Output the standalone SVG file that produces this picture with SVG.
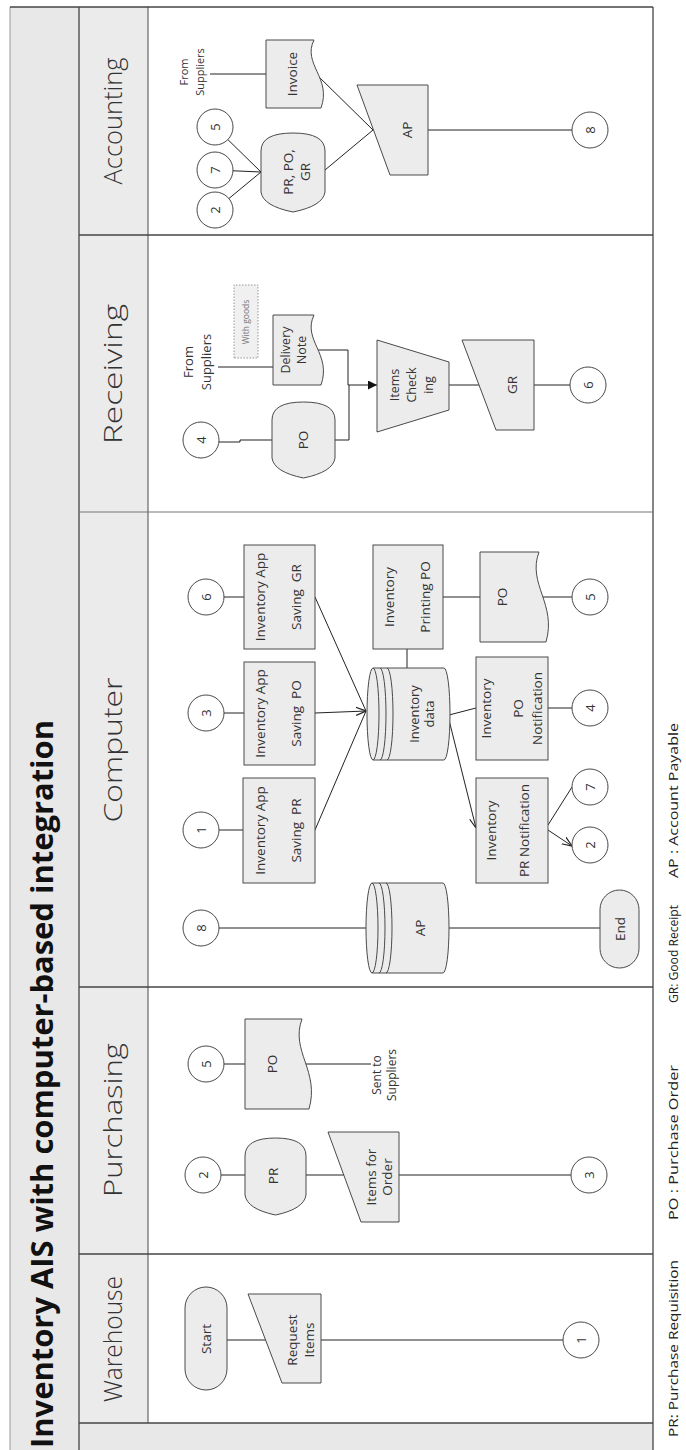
<svg xmlns="http://www.w3.org/2000/svg" width="686" height="1450" viewBox="0 0 686 1450">
<defs>
<style>
.n{fill:#ececec;stroke:#4a4a4a;stroke-width:1}
.c{fill:#fff;stroke:#4a4a4a;stroke-width:1}
.ln{fill:none;stroke:#222;stroke-width:1}
.bd{fill:none;stroke:#444;stroke-width:1.3}
.t{font-family:'Open Sans','Noto Sans','DejaVu Sans',sans-serif;font-size:13.5px;fill:#333;text-anchor:middle}
.num{font-size:13px}
.s11{font-size:11px}
.s12{font-size:12px}
.s125{font-size:12.5px}
.s13{font-size:13px}
.lbl{font-family:'Open Sans','Lato','Noto Sans',sans-serif;font-weight:300;font-size:26px;fill:#333;text-anchor:middle}
.title{font-family:'Open Sans','Noto Sans','DejaVu Sans',sans-serif;font-weight:700;font-size:30px;fill:#111}
.leg{font-family:'Open Sans','Noto Sans','DejaVu Sans',sans-serif;font-size:13.5px;fill:#222}
</style>
<marker id="ao" viewBox="0 0 10 10" refX="10" refY="5" markerWidth="10" markerHeight="10" markerUnits="userSpaceOnUse" orient="auto"><path d="M0,1 L10,5 L0,9" fill="none" stroke="#222" stroke-width="1.2"/></marker>
<marker id="af" viewBox="0 0 10 10" refX="10" refY="5" markerWidth="9" markerHeight="9" markerUnits="userSpaceOnUse" orient="auto"><path d="M0,0 L10,5 L0,10 Z" fill="#111"/></marker>
</defs>
<rect width="686" height="1450" fill="#fff"/>
<g transform="translate(0,1450) rotate(-90)">
<g id="pool">
<rect x="-5" y="10" width="1448" height="69" fill="#e8e8e8"/>
<rect x="27" y="79" width="1416" height="69" fill="#ebebeb"/>
<rect x="-5" y="79" width="32" height="574" fill="#e8e8e8"/>
<line x1="-5" y1="10" x2="1443" y2="10" stroke="#999" stroke-width="1"/>
<line x1="-5" y1="79" x2="1443" y2="79" class="bd"/>
<line x1="27" y1="148" x2="1443" y2="148" stroke="#666" stroke-width="1.2"/>
<line x1="-5" y1="653" x2="1443" y2="653" class="bd"/>
<line x1="1443" y1="10" x2="1443" y2="653" class="bd"/>
<line x1="1215" y1="79" x2="1215" y2="653" class="bd"/>
<line x1="938" y1="79" x2="938" y2="653" stroke="#777" stroke-width="1.2"/>
<line x1="463" y1="79" x2="463" y2="653" class="bd"/>
<line x1="196" y1="79" x2="196" y2="653" class="bd"/>
<line x1="27" y1="79" x2="27" y2="653" class="bd"/>
<text class="title" x="2" y="53" textLength="728" lengthAdjust="spacingAndGlyphs">Inventory AIS with computer-based integration</text>
<text class="lbl" x="1329" y="122" textLength="127" lengthAdjust="spacingAndGlyphs">Accounting</text>
<text class="lbl" x="1076" y="122" textLength="140" lengthAdjust="spacingAndGlyphs">Receiving</text>
<text class="lbl" x="700" y="122" textLength="145" lengthAdjust="spacingAndGlyphs">Computer</text>
<text class="lbl" x="330" y="122" textLength="154" lengthAdjust="spacingAndGlyphs">Purchasing</text>
<text class="lbl" x="111" y="122" textLength="126" lengthAdjust="spacingAndGlyphs">Warehouse</text>
<text class="leg" x="13" y="678" textLength="177" lengthAdjust="spacingAndGlyphs">PR: Purchase Requisition</text>
<text class="leg" x="230" y="678" textLength="155" lengthAdjust="spacingAndGlyphs">PO : Purchase Order</text>
<text class="leg" x="447" y="678" textLength="98" lengthAdjust="spacingAndGlyphs">GR: Good Receipt</text>
<text class="leg" x="572" y="678" textLength="155" lengthAdjust="spacingAndGlyphs">AP : Account Payable</text>
</g>
<g id="connectors" class="ln">
<path d="M1376,210 V266"/>
<path d="M1323,215 L1278,261"/>
<path d="M1280,215 L1278,261"/>
<path d="M1240,215 L1278,261"/>
<path d="M1280,325 L1320,373"/>
<path d="M1375,317 L1320,373"/>
<path d="M1320,428 V572"/>
<path d="M1083,218 V273"/>
<path d="M1100,318 V348 H1065 V377" marker-end="url(#af)"/>
<path d="M1008,201 V240 H1010 V272"/>
<path d="M1010,335 V349 H1065"/>
<path d="M1065,449 V479"/>
<path d="M1065,534 V570"/>
<path d="M853,206 V244"/>
<path d="M853,315 L739,366"/>
<path d="M737,206 V244"/>
<path d="M737,315 L739,366" marker-end="url(#ao)"/>
<path d="M620,201 V243"/>
<path d="M620,315 L739,366"/>
<path d="M782,407 H801"/>
<path d="M853,443 V480"/>
<path d="M853,543 V572"/>
<path d="M735,449 L742,476"/>
<path d="M742,548 V572"/>
<path d="M730,449 L622,476" marker-end="url(#ao)"/>
<path d="M625,548 L663,572"/>
<path d="M620,548 L604,572" marker-end="url(#ao)"/>
<path d="M522,219 V366"/>
<path d="M522,449 V600"/>
<path d="M386,206 V245"/>
<path d="M386,306 V371"/>
<path d="M275,203 V245"/>
<path d="M275,306 V344"/>
<path d="M275,399 V571"/>
<path d="M110,227 V266"/>
<path d="M110,321 V563"/>
</g>
<g id="acc-from"><text class="t s11" x="1378" y="188">From</text><text class="t s11" x="1378" y="204">Suppliers</text></g>
<g id="acc-invoice"><path class="n" d="M1342,266 H1410 V314 C1386,302 1372,332 1342,321 Z"/><text class="t" x="1376" y="297">Invoice</text></g>
<g id="acc-ap"><path class="n" d="M1275,390 L1365,357 V428 H1275 Z"/><text class="t" x="1320" y="412">AP</text></g>
<g id="acc-c8"><circle class="c" cx="1320" cy="590" r="18"/><text class="t num" x="1320" y="594.7">8</text></g>
<g id="acc-c5"><circle class="c" cx="1323" cy="215" r="18"/><text class="t num" x="1323" y="219.7">5</text></g>
<g id="acc-c7"><circle class="c" cx="1280" cy="215" r="18"/><text class="t num" x="1280" y="219.7">7</text></g>
<g id="acc-c2"><circle class="c" cx="1240" cy="215" r="18"/><text class="t num" x="1240" y="219.7">2</text></g>
<g id="acc-prpogr"><path class="n" d="M1238,293 Q1244,263 1258,261 H1299 Q1317,261 1317,293 Q1317,325 1299,325 H1258 Q1244,323 1238,293 Z"/><text class="t" x="1278" y="293">PR, PO,</text><text class="t" x="1278" y="310">GR</text></g>
<g id="rec-from"><text class="t s13" x="1088" y="192.5">From</text><text class="t s13" x="1088" y="210.5">Suppliers</text></g>
<g id="rec-withgoods"><rect x="1092" y="234" width="73" height="24" fill="#f0f0f0" stroke="#999" stroke-width="1" stroke-dasharray="1.5,1.5"/><text class="t" x="1128" y="249" style="font-size:8.5px;fill:#777">With goods</text></g>
<g id="rec-delivery"><path class="n" d="M1065,273 H1135 V314 C1110,302 1096,332 1065,321 Z"/><text class="t s125" x="1100" y="289.5">Delivery</text><text class="t s125" x="1100" y="305.5">Note</text></g>
<g id="rec-c4"><circle class="c" cx="1010" cy="201" r="18"/><text class="t num" x="1010" y="205.7">4</text></g>
<g id="rec-po"><path class="n" d="M972,303.5 Q978,274 992,272 H1030 Q1048,272 1048,303.5 Q1048,335 1030,335 H992 Q978,333 972,303.5 Z"/><text class="t" x="1010" y="308">PO</text></g>
<g id="rec-items"><path class="n" d="M1018,377 H1110 L1088,449 H1040 Z"/><text class="t s125" x="1065" y="398.5">Items</text><text class="t s125" x="1065" y="415.5">Check</text><text class="t s125" x="1065" y="432.5">ing</text></g>
<g id="rec-gr"><path class="n" d="M1020,496 L1110,462 V534 H1020 Z"/><text class="t" x="1065" y="517">GR</text></g>
<g id="rec-c6"><circle class="c" cx="1065" cy="588" r="18"/><text class="t num" x="1065" y="592.7">6</text></g>
<g id="cmp-c6"><circle class="c" cx="853" cy="206" r="18"/><text class="t num" x="853" y="210.7">6</text></g>
<g id="cmp-savegr"><rect class="n" x="801" y="244" width="104" height="71"/><text class="t" x="853" y="265">Inventory App</text><text class="t" x="853" y="301" xml:space="preserve">Saving  GR</text></g>
<g id="cmp-printpo"><rect class="n" x="801" y="373" width="104" height="70"/><text class="t" x="853" y="394">Inventory</text><text class="t" x="853" y="430">Printing PO</text></g>
<g id="cmp-podoc"><path class="n" d="M808,480 H898 V539 C866,527 846,557 808,546 Z"/><text class="t" x="853" y="507">PO</text></g>
<g id="cmp-c5"><circle class="c" cx="853" cy="590" r="18"/><text class="t num" x="853" y="594.7">5</text></g>
<g id="cmp-c3"><circle class="c" cx="737" cy="206" r="18"/><text class="t num" x="737" y="210.7">3</text></g>
<g id="cmp-savepo"><rect class="n" x="685" y="244" width="103" height="71"/><text class="t" x="736.5" y="265">Inventory App</text><text class="t" x="736.5" y="301" xml:space="preserve">Saving  PO</text></g>
<g id="cmp-data"><path class="n" d="M690,373 A46,6 0 0 1 782,373 V444 A46,6 0 0 1 690,444 Z"/><path d="M690,373 A46,6 0 0 0 782,373 M690,380 A46,6 0 0 0 782,380 M690,387 A46,6 0 0 0 782,387" fill="none" stroke="#4a4a4a" stroke-width="1"/><text class="t s13" x="736" y="418.5">Inventory</text><text class="t s13" x="736" y="433.5">data</text></g>
<g id="cmp-ponotif"><rect class="n" x="690" y="476" width="103" height="72"/><text class="t" x="741.5" y="491">Inventory</text><text class="t" x="741.5" y="523">PO</text><text class="t" x="741.5" y="542">Notification</text></g>
<g id="cmp-c4"><circle class="c" cx="742" cy="590" r="18"/><text class="t num" x="742" y="594.7">4</text></g>
<g id="cmp-c1"><circle class="c" cx="620" cy="201" r="18"/><text class="t num" x="620" y="205.7">1</text></g>
<g id="cmp-savepr"><rect class="n" x="567" y="243" width="105" height="72"/><text class="t" x="619.5" y="265">Inventory App</text><text class="t" x="619.5" y="301" xml:space="preserve">Saving  PR</text></g>
<g id="cmp-prnotif"><rect class="n" x="567" y="476" width="105" height="72"/><text class="t" x="619.5" y="496">Inventory</text><text class="t" x="619.5" y="529">PR Notification</text></g>
<g id="cmp-c7"><circle class="c" cx="663" cy="590" r="18"/><text class="t num" x="663" y="594.7">7</text></g>
<g id="cmp-c2"><circle class="c" cx="605" cy="590" r="18"/><text class="t num" x="605" y="594.7">2</text></g>
<g id="cmp-c8"><circle class="c" cx="522" cy="201" r="18"/><text class="t num" x="522" y="205.7">8</text></g>
<g id="cmp-ap"><path class="n" d="M477,372 A45,6 0 0 1 567,372 V443 A45,6 0 0 1 477,443 Z"/><path d="M477,372 A45,6 0 0 0 567,372 M477,379 A45,6 0 0 0 567,379 M477,386 A45,6 0 0 0 567,386" fill="none" stroke="#4a4a4a" stroke-width="1"/><text class="t" x="522" y="425">AP</text></g>
<g id="cmp-end"><rect class="n" x="482" y="600" width="78" height="39" rx="19.5"/><text class="t" x="521" y="624.5">End</text></g>
<g id="pur-c5"><circle class="c" cx="386" cy="206" r="18"/><text class="t num" x="386" y="210.7">5</text></g>
<g id="pur-po"><path class="n" d="M341,245 H431 V302 C399,290 379,320 341,309 Z"/><text class="t" x="386" y="277">PO</text></g>
<g id="pur-sent"><text class="t s12" x="375" y="381">Sent to</text><text class="t s12" x="375" y="396">Suppliers</text></g>
<g id="pur-c2"><circle class="c" cx="275" cy="203" r="18"/><text class="t num" x="275" y="207.7">2</text></g>
<g id="pur-pr"><path class="n" d="M235,275.5 Q241,247 255,245 H294 Q312,245 312,275.5 Q312,306 294,306 H255 Q241,304 235,275.5 Z"/><text class="t" x="274" y="278">PR</text></g>
<g id="pur-items"><path class="n" d="M228,361 L318,328 V399 H228 Z"/><text class="t" x="273" y="376">Items for</text><text class="t" x="273" y="392">Order</text></g>
<g id="pur-c3"><circle class="c" cx="275" cy="589" r="18"/><text class="t num" x="275" y="593.7">3</text></g>
<g id="wh-start"><rect class="n" x="60" y="185" width="103" height="42" rx="21"/><text class="t" x="111" y="210.5">Start</text></g>
<g id="wh-request"><path class="n" d="M67,282 L156,248 V321 H67 Z"/><text class="t" x="110" y="297">Request</text><text class="t" x="110" y="314">Items</text></g>
<g id="wh-c1"><circle class="c" cx="110" cy="581" r="18"/><text class="t num" x="110" y="585.7">1</text></g>
</g>
</svg>
